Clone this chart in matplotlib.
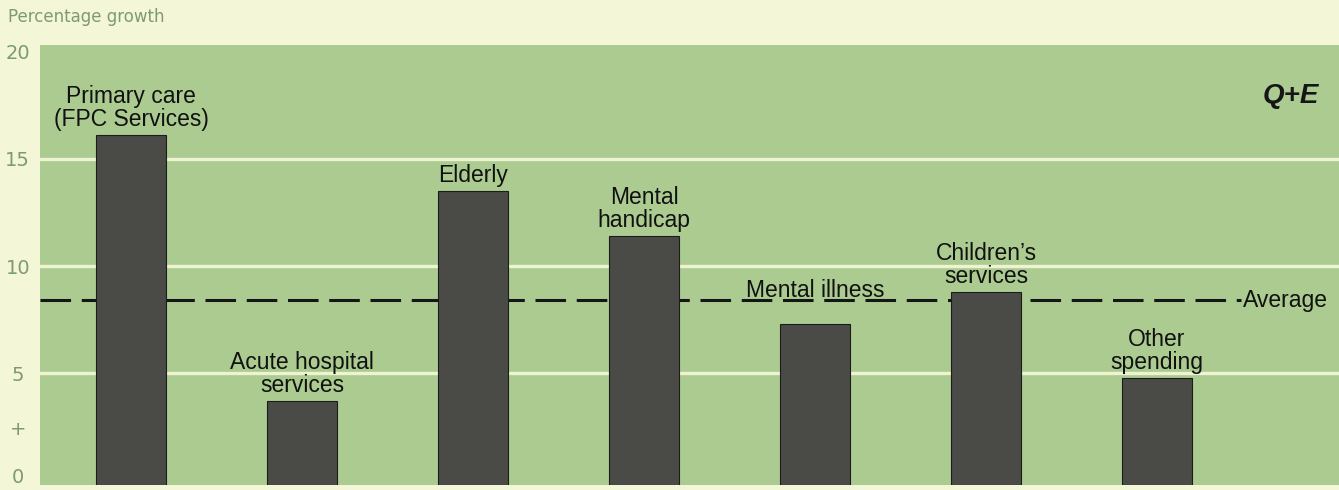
import matplotlib
matplotlib.use("Agg")
import matplotlib.pyplot as plt
import matplotlib.transforms as mtransforms
import numpy as np

# Growth in spending by service area (percentage)
categories = [
    "Primary care\n(FPC Services)",
    "Acute hospital\nservices",
    "Elderly",
    "Mental\nhandicap",
    "Mental illness",
    "Children\u2019s\nservices",
    "Other\nspending",
]
growth = [16.1, 3.7, 13.5, 11.4, 7.3, 8.8, 4.8]
average_growth = 8.4
tick_values = [0, 2.5, 5, 10, 15, 20]
tick_labels = ["0", "+", "5", "10", "15", "20"]
grid_values = [5, 10, 15]

PAGE = "#f4f6d8"
PANEL = "#abcb91"
GRID = "#eef3d2"
BAR = "#4a4a46"
MUTED = "#7d9b6e"
LABEL_FONT = ["Liberation Sans", "DejaVu Sans"]
NARROW_FONT = ["Liberation Sans Narrow", "DejaVu Sans"]

fig = plt.figure(figsize=(13.39, 4.90), dpi=100, facecolor=PAGE)
ax = fig.add_axes([40 / 1339, 5 / 490, 1299 / 1339, 440 / 490])
ax.set_facecolor(PANEL)

base = -0.2
ax.set_ylim(base, 20.3)
ax.set_xlim(-0.532, 7.064)

x = np.arange(len(categories))
for g in grid_values:
    ax.axhline(g, color=GRID, lw=2.4, zorder=1)

heights = np.array(growth) - base
ax.bar(x, heights, bottom=base, width=0.41, color=BAR,
       edgecolor="#1c1c1a", linewidth=0.8, zorder=3)

# Average line
ax.plot([-0.532, 6.49], [average_growth, average_growth], color="#151515",
        lw=2.2, dashes=(10, 3.5), zorder=2)
ax.text(6.5, average_growth, "Average", ha="left", va="center",
        fontsize=16.5, family=LABEL_FONT, color="#111111", zorder=4)

# Category labels above bars
for i, (name, val) in enumerate(zip(categories, growth)):
    if name == "Mental illness":
        y, off = average_growth, -1
    else:
        y, off = val, 3
    ax.annotate(name, (i, y), xytext=(0, off), textcoords="offset points",
                ha="center", va="bottom", fontsize=16.5, family=LABEL_FONT,
                linespacing=1.0, color="#111111", zorder=4)

ax.set_xticks([])
ax.set_yticks(tick_values)
ax.set_yticklabels(tick_labels)
ax.tick_params(axis="y", length=0, pad=16, labelsize=14, labelcolor=MUTED)
for lbl in ax.get_yticklabels():
    lbl.set_horizontalalignment("center")
    lbl.set_family(NARROW_FONT)
# lift the zero label off the bottom edge
zero = ax.get_yticklabels()[0]
zero.set_transform(zero.get_transform() +
                   mtransforms.ScaledTranslation(0, 5 / 100, fig.dpi_scale_trans))
for s in ax.spines.values():
    s.set_visible(False)

fig.text(8 / 1339, 1 - 17 / 490, "Percentage growth", ha="left", va="center",
         fontsize=12, family=NARROW_FONT, color=MUTED)

# Publisher mark
ax.text(0.985, 0.885, "Q+E", transform=ax.transAxes, ha="right", va="center",
        fontsize=20, fontweight="bold", fontstyle="italic",
        family=LABEL_FONT, color="#161616", zorder=4)

fig.savefig("out.png", dpi=100, facecolor=PAGE)
